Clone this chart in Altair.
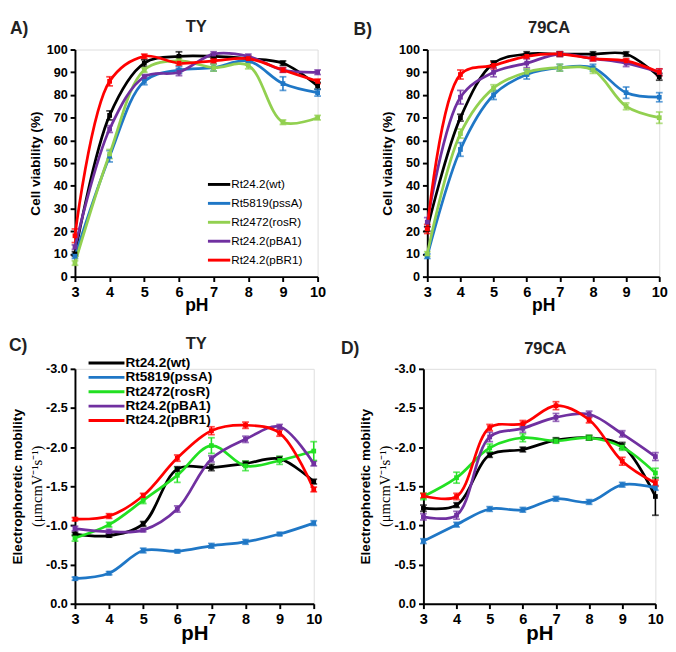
import altair as alt
import pandas as pd

pH = [3, 4, 5, 6, 7, 8, 9, 10]
strains = ["Rt24.2(wt)", "Rt5819(pssA)", "Rt2472(rosR)", "Rt24.2(pBA1)", "Rt24.2(pBR1)"]

# Panel A: cell viability, TY
via_TY = {
    "Rt24.2(wt)":   [10, 71, 94, 97, 97, 96, 94, 84],
    "Rt5819(pssA)": [9, 53, 86, 91, 92, 95, 85, 81],
    "Rt2472(rosR)": [6, 54, 91, 95, 92, 93, 68, 70],
    "Rt24.2(pBA1)": [13, 65, 88, 90, 98, 97, 91, 90],
    "Rt24.2(pBR1)": [18, 86, 97, 94, 95, 96, 91, 86],
}
via_TY_err = {
    "Rt24.2(wt)":   [1, 2, 1.5, 2, 1, 1, 1, 1.5],
    "Rt5819(pssA)": [1, 2.5, 1.5, 1.5, 1.5, 1, 3, 1.5],
    "Rt2472(rosR)": [1, 2, 1, 1, 1.5, 1.5, 1, 1],
    "Rt24.2(pBA1)": [1, 1.5, 1, 1.5, 1, 1, 1, 1],
    "Rt24.2(pBR1)": [3, 2, 1, 1, 1, 1, 1, 1],
}
# Panel B: cell viability, 79CA
via_79CA = {
    "Rt24.2(wt)":   [21, 70, 94, 98, 98, 98, 98, 88],
    "Rt5819(pssA)": [9, 56, 80, 89, 92, 92, 81, 79],
    "Rt2472(rosR)": [10, 63, 83, 90, 92, 91, 75, 70],
    "Rt24.2(pBA1)": [24, 79, 90, 94, 98, 96, 94, 90],
    "Rt24.2(pBR1)": [21, 89, 93, 97, 98, 96, 95, 90],
}
via_79CA_err = {
    "Rt24.2(wt)":   [1, 1.5, 1, 1, 1, 1, 1, 1.5],
    "Rt5819(pssA)": [1, 3, 2, 2, 1.5, 1.5, 2.5, 2],
    "Rt2472(rosR)": [1, 2, 1.5, 1.5, 1.5, 1.5, 1.5, 2.5],
    "Rt24.2(pBA1)": [2, 3, 2, 2, 1, 1, 1.5, 1.5],
    "Rt24.2(pBR1)": [2, 2, 1.5, 1, 1, 1, 1, 1.5],
}
# Panel C: electrophoretic mobility, TY
mob_TY = {
    "Rt24.2(wt)":   [-0.89, -0.87, -1.02, -1.72, -1.74, -1.79, -1.85, -1.56],
    "Rt5819(pssA)": [-0.32, -0.39, -0.68, -0.67, -0.74, -0.79, -0.89, -1.03],
    "Rt2472(rosR)": [-0.84, -1.01, -1.32, -1.64, -2.02, -1.76, -1.83, -1.95],
    "Rt24.2(pBA1)": [-0.96, -0.92, -0.94, -1.21, -1.85, -2.10, -2.26, -1.79],
    "Rt24.2(pBR1)": [-1.08, -1.12, -1.38, -1.86, -2.21, -2.28, -2.18, -1.46],
}
mob_TY_err = {
    "Rt24.2(wt)":   [0.02, 0.02, 0.03, 0.03, 0.04, 0.03, 0.03, 0.03],
    "Rt5819(pssA)": [0.02, 0.02, 0.03, 0.02, 0.03, 0.03, 0.02, 0.03],
    "Rt2472(rosR)": [0.04, 0.03, 0.04, 0.09, 0.10, 0.06, 0.05, 0.12],
    "Rt24.2(pBA1)": [0.03, 0.03, 0.02, 0.04, 0.04, 0.04, 0.03, 0.03],
    "Rt24.2(pBR1)": [0.02, 0.03, 0.03, 0.04, 0.05, 0.04, 0.04, 0.03],
}
# Panel D: electrophoretic mobility, 79CA
mob_79CA = {
    "Rt24.2(wt)":   [-1.22, -1.26, -1.90, -1.97, -2.09, -2.12, -2.02, -1.37],
    "Rt5819(pssA)": [-0.80, -1.01, -1.21, -1.20, -1.34, -1.30, -1.52, -1.48],
    "Rt2472(rosR)": [-1.37, -1.61, -1.99, -2.12, -2.08, -2.12, -2.00, -1.67],
    "Rt24.2(pBA1)": [-1.11, -1.13, -2.13, -2.24, -2.38, -2.42, -2.17, -1.88],
    "Rt24.2(pBR1)": [-1.38, -1.37, -2.25, -2.30, -2.53, -2.35, -1.82, -1.54],
}
mob_79CA_err = {
    "Rt24.2(wt)":   [0.04, 0.03, 0.03, 0.03, 0.03, 0.03, 0.04, 0.24],
    "Rt5819(pssA)": [0.03, 0.03, 0.03, 0.03, 0.03, 0.03, 0.03, 0.03],
    "Rt2472(rosR)": [0.04, 0.07, 0.05, 0.05, 0.03, 0.03, 0.04, 0.06],
    "Rt24.2(pBA1)": [0.04, 0.05, 0.06, 0.05, 0.05, 0.04, 0.04, 0.05],
    "Rt24.2(pBR1)": [0.03, 0.04, 0.04, 0.04, 0.05, 0.04, 0.05, 0.04],
}

colors_AB = ["#000000", "#1f77c6", "#92d050", "#7030a0", "#ff0000"]
colors_CD = ["#000000", "#1f77c6", "#22e022", "#7030a0", "#ff0000"]

FONT = "Liberation Sans"


def to_df(vals, errs):
    rows = []
    for s in strains:
        for x, v, e in zip(pH, vals[s], errs[s]):
            rows.append({"pH": x, "strain": s, "value": v, "lo": v - e, "hi": v + e})
    return pd.DataFrame(rows)


def panel(df, colors, w, h, letter, letter_dx, letter_dy, title, title_dx, title_dy,
          ydomain, yvalues, ytitle, ytitle_pad, xtitle_size, xtitle_pad, legend=None, mob=False):
    cscale = alt.Scale(domain=strains, range=colors)
    xs = alt.Scale(domain=[3, 10], nice=False, zero=False)
    ys = alt.Scale(domain=ydomain, nice=False, zero=False)
    xaxis = alt.Axis(values=pH, title="pH", grid=False, domainWidth=2, domainColor="black",
                     tickColor="black", tickWidth=2, tickSize=5, labelFont=FONT,
                     labelFontWeight="bold", labelFontSize=15, labelColor="black",
                     labelPadding=3, titleFont=FONT, titleFontSize=xtitle_size,
                     titleFontWeight="bold", titleColor="black", titlePadding=xtitle_pad,
                     labelFlush=False, labelOverlap=False)
    if mob:
        lexpr = "(datum.value < 0 ? '-' : '') + format(abs(datum.value), '.1f')"
    else:
        lexpr = "format(datum.value, 'd')"
    yaxis = alt.Axis(values=yvalues, title=ytitle, grid=False, domainWidth=2, domainColor="black",
                     tickColor="black", tickWidth=2, tickSize=5, labelFont=FONT,
                     labelFontWeight="bold", labelFontSize=13, labelColor="black",
                     labelPadding=3, labelExpr=lexpr, titleFont=FONT, titleFontSize=14,
                     titleFontWeight="bold", titleColor="black", titlePadding=ytitle_pad,
                     labelOverlap=False, labelFlush=False)
    base = alt.Chart(df)
    col = alt.Color("strain:N", scale=cscale, legend=None)
    X = alt.X("pH:Q", scale=xs, axis=xaxis)
    line = base.mark_line(interpolate="catmull-rom", strokeWidth=2.8).encode(
        x=X, y=alt.Y("value:Q", scale=ys, axis=yaxis), color=col)
    bars = base.mark_rule(strokeWidth=1.6).encode(
        x=X, y=alt.Y("lo:Q", scale=ys, axis=yaxis), y2="hi:Q", color=col)
    cap_lo = base.mark_tick(orient="horizontal", size=7, thickness=1.8).encode(
        x=X, y=alt.Y("lo:Q", scale=ys, axis=yaxis), color=col)
    cap_hi = base.mark_tick(orient="horizontal", size=7, thickness=1.8).encode(
        x=X, y=alt.Y("hi:Q", scale=ys, axis=yaxis), color=col)
    pts = base.mark_square(size=24, opacity=1).encode(
        x=X, y=alt.Y("value:Q", scale=ys, axis=yaxis), color=col)
    lab = pd.DataFrame({"t": [0]})
    letter_mark = alt.Chart(lab).mark_text(
        text=letter, font=FONT, fontSize=18, fontWeight="bold", align="left",
        baseline="middle", color="#222222"
    ).encode(x=alt.value(letter_dx), y=alt.value(letter_dy))
    title_mark = alt.Chart(lab).mark_text(
        text=title, font=FONT, fontSize=17, fontWeight="bold", align="center",
        baseline="middle", color="#222222"
    ).encode(x=alt.value(w / 2 + title_dx), y=alt.value(title_dy))
    layers = [bars, cap_lo, cap_hi, line, pts, letter_mark, title_mark]
    if mob:
        unit = alt.Chart(lab).mark_text(
            text="(\u03bcmcmV\u207b\u00b9s\u207b\u00b9)", font="Liberation Serif", fontSize=15,
            align="center", baseline="middle", angle=270, color="black"
        ).encode(x=alt.value(-39), y=alt.value(h / 2))
        layers.append(unit)
    if legend is not None:
        lx0, lx1, ly0, dy, fs, fw = legend
        for i, s in enumerate(strains):
            one = pd.DataFrame({"strain": [s]})
            layers.append(alt.Chart(one).mark_rule(strokeWidth=3, color=colors[i]).encode(
                x=alt.value(lx0), x2=alt.value(lx1), y=alt.value(ly0 + i * dy)))
            layers.append(alt.Chart(one).mark_text(
                font=FONT, fontSize=fs, fontWeight=fw, align="left", baseline="middle",
                color="black").encode(
                x=alt.value(lx1 + 1), y=alt.value(ly0 + i * dy), text="strain:N"))
    return alt.layer(*layers).properties(width=w, height=h)


A = panel(to_df(via_TY, via_TY_err), colors_AB, 250, 234, "A)", -67, -21, "TY", 0, -23,
          [0, 100], list(range(0, 101, 10)), "Cell viability (%)", 4, 18, -2,
          legend=(137, 160, 139, 19.5, 12, "normal"))
B = panel(to_df(via_79CA, via_79CA_err), colors_AB, 239, 234, "B)", -76, -20, "79CA", 6, -22,
          [0, 100], list(range(0, 101, 10)), "Cell viability (%)", 4, 18, -2)
C = panel(to_df(mob_TY, mob_TY_err), colors_CD, 246, 242, "C)", -68, -23, "TY", 2, -25,
          [0, -3], [0, -0.5, -1.0, -1.5, -2.0, -2.5, -3.0], "Electrophoretic mobility", 22, 21, -3,
          legend=(14, 51, -6, 14.8, 14, "bold"), mob=True)
D = panel(to_df(mob_79CA, mob_79CA_err), colors_CD, 239, 242, "D)", -85, -20, "79CA", 6, -20,
          [0, -3], [0, -0.5, -1.0, -1.5, -2.0, -2.5, -3.0], "Electrophoretic mobility", 22, 21, -3,
          mob=True)

top = alt.hconcat(A, B, spacing=27).resolve_scale(color="independent")
bottom = alt.hconcat(C, D, spacing=18).resolve_scale(color="independent")
chart = alt.vconcat(top, bottom, spacing=20).resolve_scale(color="independent").properties(
    padding=0
).configure_view(stroke=None).configure(background="white")

chart.save("out.html", embed_options={"renderer": "svg", "actions": False})
